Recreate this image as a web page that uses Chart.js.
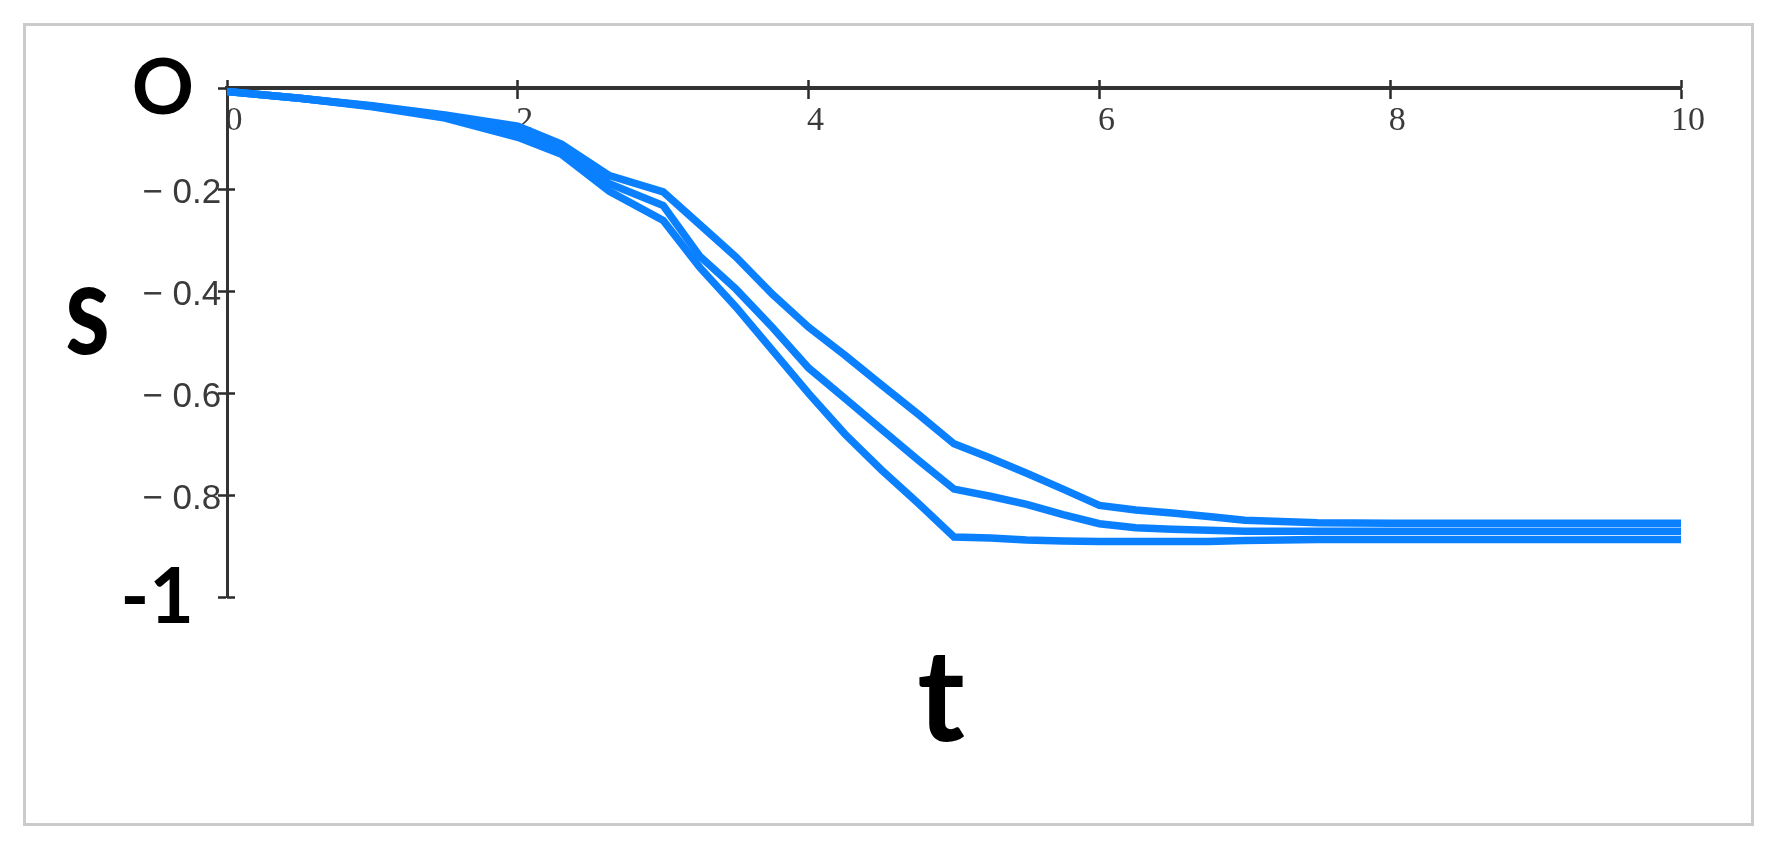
<!DOCTYPE html>
<html>
<head>
<meta charset="utf-8">
<script src="https://cdn.jsdelivr.net/npm/chart.js@4.4.1/dist/chart.umd.min.js"></script>
<style>
html,body{margin:0;padding:0;background:#fff;}
#wrap{position:relative;width:1777px;height:853px;overflow:hidden;}
#frame{position:absolute;left:23px;top:23px;width:1731px;height:803px;border:3px solid #cbcbcb;box-sizing:border-box;}
canvas{position:absolute;left:0;top:0;}
</style>
</head>
<body>
<div id="wrap"><div id="frame"></div><canvas id="c" width="1777" height="853"></canvas></div>
<script>
// ---- data ----
const tValues = [0, 0.5, 1, 1.5, 2, 2.3, 2.63, 3.0, 3.25, 3.5, 3.75, 4.0, 4.25, 4.5, 4.75, 5.0, 5.25, 5.5, 5.75, 6.0, 6.25, 6.5, 6.75, 7.0, 7.5, 8.0, 8.5, 9.0, 9.5, 10];
const sUpper  = [-0.007,-0.02,-0.035,-0.053,-0.075,-0.11,-0.172,-0.204,-0.268,-0.332,-0.405,-0.47,-0.525,-0.583,-0.64,-0.699,-0.727,-0.757,-0.788,-0.82,-0.829,-0.835,-0.842,-0.849,-0.854,-0.855,-0.855,-0.855,-0.855,-0.855];
const sMiddle = [-0.007,-0.02,-0.036,-0.056,-0.086,-0.12,-0.188,-0.231,-0.33,-0.395,-0.47,-0.55,-0.61,-0.67,-0.73,-0.788,-0.802,-0.818,-0.838,-0.856,-0.864,-0.867,-0.869,-0.871,-0.871,-0.871,-0.871,-0.871,-0.871,-0.871];
const sLower  = [-0.007,-0.02,-0.037,-0.059,-0.097,-0.13,-0.203,-0.26,-0.352,-0.43,-0.515,-0.6,-0.68,-0.75,-0.815,-0.882,-0.884,-0.888,-0.890,-0.891,-0.891,-0.891,-0.891,-0.889,-0.887,-0.887,-0.887,-0.887,-0.887,-0.887];
const xTicks = [0, 2, 4, 6, 8, 10];
const xTickLabels = ['0', '2', '4', '6', '8', '10'];
const yTicks = [0, -0.2, -0.4, -0.6, -0.8, -1];
const yTickLabels = ['O', '\u2212 0.2', '\u2212 0.4', '\u2212 0.6', '\u2212 0.8', '-1'];
const xTitle = 't';
const yTitle = 's';

// ---- styling ----
const LINE_COLOR = '#0a80ff';
const AXIS_COLOR = '#333333';
const TICK_COLOR = '#2a2a2a';
const LABEL_COLOR = '#3a3a3a';

const toPoints = ys => tValues.map((t, i) => ({x: t, y: ys[i]}));
const setTicks = vals => scale => { scale.ticks = vals.map(v => ({value: v})); };
const fixWidth = w => scale => { scale.width = w; };
const isEnd = i => i === 0 || i === yTicks.length - 1;

const titlesPlugin = {
  id: 'axisTitles',
  afterDraw(chart) {
    const {ctx, chartArea: a} = chart;
    ctx.save();
    ctx.fillStyle = '#000';
    ctx.font = '700 128px Lato, "Open Sans", sans-serif';
    ctx.textAlign = 'center';
    ctx.textBaseline = 'alphabetic';
    ctx.save();
    ctx.translate(a.left - 139.5, a.top + 266);
    ctx.scale(0.8, 1);
    ctx.fillText(yTitle, 0, 0);
    ctx.restore();
    ctx.fillText(xTitle, (a.left + a.right) / 2 - 13, a.bottom + 144);
    ctx.restore();
  }
};

new Chart(document.getElementById('c'), {
  type: 'line',
  data: {
    datasets: [
      {data: toPoints(sUpper)},
      {data: toPoints(sMiddle)},
      {data: toPoints(sLower)}
    ].map(d => Object.assign(d, {
      borderColor: LINE_COLOR, borderWidth: 7.5, pointRadius: 0, tension: 0, fill: false,
      xAxisID: 'x', yAxisID: 'y'
    }))
  },
  options: {
    responsive: false,
    animation: false,
    devicePixelRatio: 1,
    layout: {padding: {left: 107, right: 96, top: 88, bottom: 256}},
    plugins: {legend: {display: false}, tooltip: {enabled: false}, title: {display: false}},
    scales: {
      x: {
        axis: 'x', type: 'linear', position: {y: 0}, min: 0, max: 10,
        afterBuildTicks: setTicks(xTicks),
        ticks: {
          font: {family: '"Liberation Serif", serif', size: 34}, color: LABEL_COLOR,
          padding: 4, labelOffset: 7, maxRotation: 0, autoSkip: false,
          callback: (v, i) => xTickLabels[i]
        },
        grid: {drawOnChartArea: false, drawTicks: true, tickLength: 9, tickWidth: 2.5, tickColor: TICK_COLOR},
        border: {display: true, color: AXIS_COLOR, width: 4}
      },
      xUp: {
        axis: 'x', type: 'linear', position: {y: 0}, min: 0, max: 10,
        afterBuildTicks: setTicks(xTicks),
        ticks: {display: false},
        grid: {drawOnChartArea: false, drawTicks: true, tickLength: -8, tickWidth: 2.5, tickColor: TICK_COLOR},
        border: {display: false}
      },
      y: {
        axis: 'y', type: 'linear', position: 'left', min: -1, max: 0,
        afterBuildTicks: setTicks(yTicks),
        afterFit: fixWidth(120),
        ticks: {
          font: {family: 'Lato, "Open Sans", sans-serif', weight: 'bold', size: 77}, color: '#000',
          padding: 24, labelOffset: 1, autoSkip: false,
          callback: (v, i) => isEnd(i) ? yTickLabels[i] : ''
        },
        grid: {drawOnChartArea: false, drawTicks: true, tickLength: 9, tickWidth: 2.5, tickColor: TICK_COLOR},
        border: {display: true, color: AXIS_COLOR, width: 3}
      },
      yRight: {
        axis: 'y', type: 'linear', position: {x: 0}, min: -1, max: 0,
        afterBuildTicks: setTicks(yTicks.slice(1)),
        ticks: {display: false},
        grid: {drawOnChartArea: false, drawTicks: true, tickLength: -8, tickWidth: 2.5, tickColor: TICK_COLOR},
        border: {display: false}
      },
      ySmall: {
        axis: 'y', type: 'linear', position: {x: -0.04}, min: -1, max: 0,
        afterBuildTicks: setTicks(yTicks.slice(1, -1)),
        ticks: {
          font: {family: '"Liberation Sans", sans-serif', size: 35}, color: LABEL_COLOR,
          padding: 0, labelOffset: 4, autoSkip: false,
          callback: (v, i) => yTickLabels[i + 1]
        },
        grid: {display: false, drawOnChartArea: false, drawTicks: false, tickLength: 0},
        border: {display: false}
      }
    }
  },
  plugins: [titlesPlugin]
});
</script>
</body>
</html>
